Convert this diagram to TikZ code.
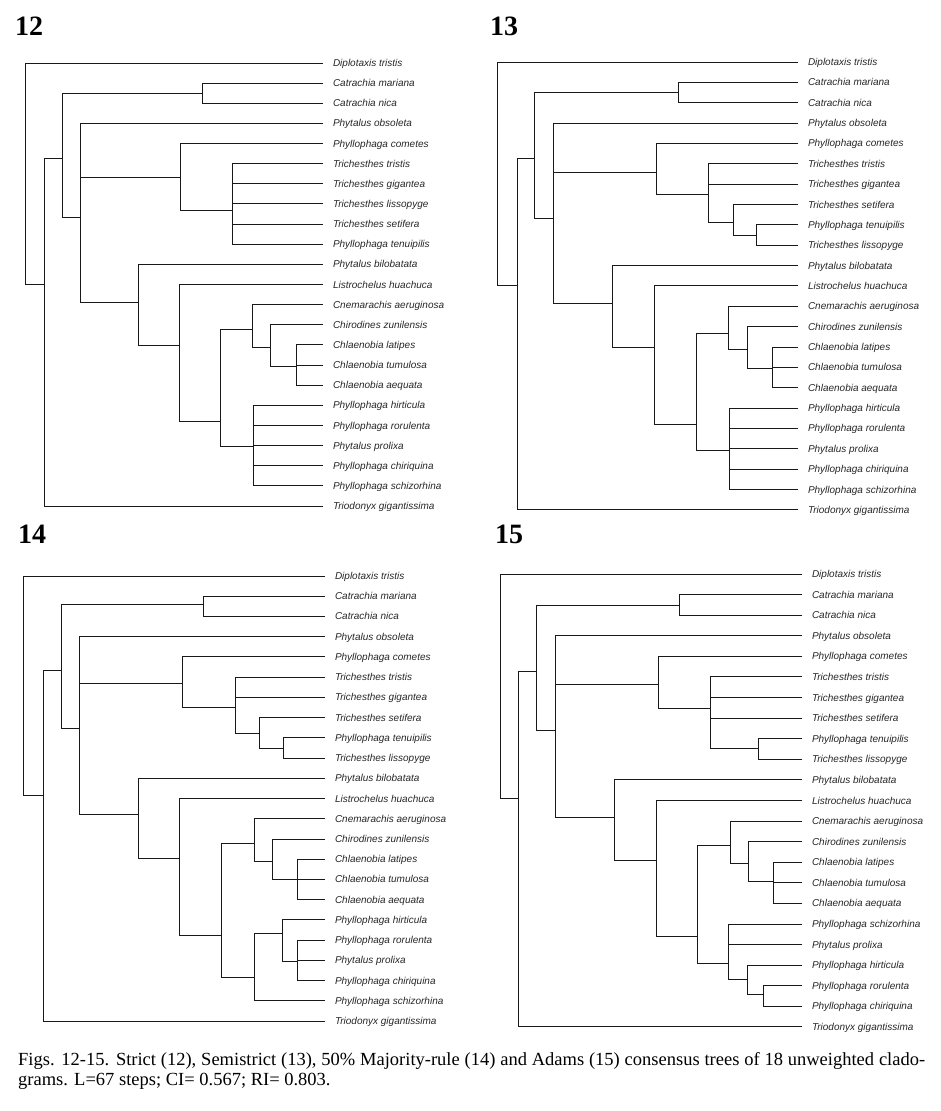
\documentclass[tikz,border=0pt]{standalone}
\usepackage{fontspec}
\setmainfont{Liberation Serif}
\newfontfamily\taxfont{Liberation Sans}
\usetikzlibrary{positioning}

\tikzset{
  taxon/.style={anchor=west, inner xsep=0pt, outer xsep=10pt, inner ysep=0pt,
    text height=8pt, text depth=1pt, black!85,
    font=\taxfont\itshape\fontsize{10}{12}\selectfont},
  branch/.style={line width=1pt, black!90},
  figno/.style={anchor=base west, inner sep=0pt, font=\bfseries\fontsize{28}{30}\selectfont},
  legend/.style={anchor=base west, inner sep=0pt, font=\fontsize{18.5}{19}\selectfont}
}

\begin{document}
\begin{tikzpicture}[x=1pt, y=-1pt]
\useasboundingbox (0,0) rectangle (941,1111);

% figure numbers
\node [figno] (no12) at (15,35) {12};
\node [figno] (no13) at (490,35) {13};
\node [figno] (no14) at (18,543) {14};
\node [figno] (no15) at (495,543) {15};

% ---- 12: strict
\foreach \m/\l [count=\i] in {dip/Diplotaxis tristis, cmar/Catrachia mariana, cnic/Catrachia nica,
    pobs/Phytalus obsoleta, pcom/Phyllophaga cometes, ttri/Trichesthes tristis,
    tgig/Trichesthes gigantea, tlis/Trichesthes lissopyge, tset/Trichesthes setifera,
    pten/Phyllophaga tenuipilis, pbil/Phytalus bilobatata, lhua/Listrochelus huachuca,
    caer/Cnemarachis aeruginosa, czun/Chirodines zunilensis, clat/Chlaenobia latipes,
    ctum/Chlaenobia tumulosa, caeq/Chlaenobia aequata, phir/Phyllophaga hirticula,
    pror/Phyllophaga rorulenta, ppro/Phytalus prolixa, pchi/Phyllophaga chiriquina,
    psch/Phyllophaga schizorhina, trio/Triodonyx gigantissima}
  \node [taxon] (a-\m) at (323,{63+(\i-1)*20.14}) {\l};

\foreach \n/\x/\y in {r/25/170, n1/44/284, n2/62/158, n3/202/93, n4/80/217, n5/180/177,
    n6/232/210, n7/138/302, n8/179/345, n9/220/421, n10/252/329, n11/270/347,
    n12/296/366, n13/253/446}
  \coordinate (a-\n) at (\x,\y);

\foreach \p/\c in {r/dip, r/n1, n1/n2, n1/trio, n2/n3, n2/n4, n3/cmar, n3/cnic,
    n4/pobs, n4/n5, n4/n7, n5/pcom, n5/n6, n6/ttri, n6/tgig, n6/tlis, n6/tset, n6/pten,
    n7/pbil, n7/n8, n8/lhua, n8/n9, n9/n10, n9/n13, n10/caer, n10/n11, n11/czun, n11/n12,
    n12/clat, n12/ctum, n12/caeq, n13/phir, n13/pror, n13/ppro, n13/pchi, n13/psch}
  \draw [branch] (a-\p) |- (a-\c);

% ---- 13: semistrict
\foreach \m/\l [count=\i] in {dip/Diplotaxis tristis, cmar/Catrachia mariana, cnic/Catrachia nica,
    pobs/Phytalus obsoleta, pcom/Phyllophaga cometes, ttri/Trichesthes tristis,
    tgig/Trichesthes gigantea, tset/Trichesthes setifera, pten/Phyllophaga tenuipilis,
    tlis/Trichesthes lissopyge, pbil/Phytalus bilobatata, lhua/Listrochelus huachuca,
    caer/Cnemarachis aeruginosa, czun/Chirodines zunilensis, clat/Chlaenobia latipes,
    ctum/Chlaenobia tumulosa, caeq/Chlaenobia aequata, phir/Phyllophaga hirticula,
    pror/Phyllophaga rorulenta, ppro/Phytalus prolixa, pchi/Phyllophaga chiriquina,
    psch/Phyllophaga schizorhina, trio/Triodonyx gigantissima}
  \node [taxon] (b-\m) at (798,{62+(\i-1)*20.36}) {\l};

\foreach \n/\x/\y in {r/497/170, n1/517/285, n2/534/158, n3/678/92, n4/553/218, n5/656/172,
    n6/708/194, n7/733/222, n8/756/235, n9/612/303, n10/654/347, n11/696/424,
    n12/728/333, n13/747/349, n14/772/368, n15/729/450}
  \coordinate (b-\n) at (\x,\y);

\foreach \p/\c in {r/dip, r/n1, n1/n2, n1/trio, n2/n3, n2/n4, n3/cmar, n3/cnic,
    n4/pobs, n4/n5, n4/n9, n5/pcom, n5/n6, n6/ttri, n6/tgig, n6/n7, n7/tset, n7/n8,
    n8/pten, n8/tlis, n9/pbil, n9/n10, n10/lhua, n10/n11, n11/n12, n11/n15, n12/caer,
    n12/n13, n13/czun, n13/n14, n14/clat, n14/ctum, n14/caeq,
    n15/phir, n15/pror, n15/ppro, n15/pchi, n15/psch}
  \draw [branch] (b-\p) |- (b-\c);

% ---- 14: 50% majority rule
\foreach \m/\l [count=\i] in {dip/Diplotaxis tristis, cmar/Catrachia mariana, cnic/Catrachia nica,
    pobs/Phytalus obsoleta, pcom/Phyllophaga cometes, ttri/Trichesthes tristis,
    tgig/Trichesthes gigantea, tset/Trichesthes setifera, pten/Phyllophaga tenuipilis,
    tlis/Trichesthes lissopyge, pbil/Phytalus bilobatata, lhua/Listrochelus huachuca,
    caer/Cnemarachis aeruginosa, czun/Chirodines zunilensis, clat/Chlaenobia latipes,
    ctum/Chlaenobia tumulosa, caeq/Chlaenobia aequata, phir/Phyllophaga hirticula,
    pror/Phyllophaga rorulenta, ppro/Phytalus prolixa, pchi/Phyllophaga chiriquina,
    psch/Phyllophaga schizorhina, trio/Triodonyx gigantissima}
  \node [taxon] (c-\m) at (325,{576+(\i-1)*20.23}) {\l};

\foreach \n/\x/\y in {r/23/680, n1/43/795, n2/61/670, n3/203/604, n4/79/728, n5/182/683,
    n6/235/707, n7/259/733, n8/283/748, n9/138/814, n10/179/858, n11/221/935,
    n12/254/843, n13/272/861, n14/297/879, n15/254/977, n16/282/933, n17/297/961}
  \coordinate (c-\n) at (\x,\y);

\foreach \p/\c in {r/dip, r/n1, n1/n2, n1/trio, n2/n3, n2/n4, n3/cmar, n3/cnic,
    n4/pobs, n4/n5, n4/n9, n5/pcom, n5/n6, n6/ttri, n6/tgig, n6/n7, n7/tset, n7/n8,
    n8/pten, n8/tlis, n9/pbil, n9/n10, n10/lhua, n10/n11, n11/n12, n11/n15, n12/caer,
    n12/n13, n13/czun, n13/n14, n14/clat, n14/ctum, n14/caeq,
    n15/n16, n15/psch, n16/phir, n16/n17, n17/pror, n17/ppro, n17/pchi}
  \draw [branch] (c-\p) |- (c-\c);

% ---- 15: Adams
\foreach \m/\l [count=\i] in {dip/Diplotaxis tristis, cmar/Catrachia mariana, cnic/Catrachia nica,
    pobs/Phytalus obsoleta, pcom/Phyllophaga cometes, ttri/Trichesthes tristis,
    tgig/Trichesthes gigantea, tset/Trichesthes setifera, pten/Phyllophaga tenuipilis,
    tlis/Trichesthes lissopyge, pbil/Phytalus bilobatata, lhua/Listrochelus huachuca,
    caer/Cnemarachis aeruginosa, czun/Chirodines zunilensis, clat/Chlaenobia latipes,
    ctum/Chlaenobia tumulosa, caeq/Chlaenobia aequata, psch/Phyllophaga schizorhina,
    ppro/Phytalus prolixa, phir/Phyllophaga hirticula, pror/Phyllophaga rorulenta,
    pchi/Phyllophaga chiriquina, trio/Triodonyx gigantissima}
  \node [taxon] (d-\m) at (802,{574+(\i-1)*20.59}) {\l};

\foreach \n/\x/\y in {r/500/680, n1/518/798, n2/536/671, n3/679/605, n4/555/730, n5/658/684,
    n6/710/708, n7/758/748, n8/614/817, n9/656/860, n10/697/936, n11/730/845,
    n12/748/863, n13/773/881, n14/728/963, n15/747/979, n16/763/994}
  \coordinate (d-\n) at (\x,\y);

\foreach \p/\c in {r/dip, r/n1, n1/n2, n1/trio, n2/n3, n2/n4, n3/cmar, n3/cnic,
    n4/pobs, n4/n5, n4/n8, n5/pcom, n5/n6, n6/ttri, n6/tgig, n6/tset, n6/n7,
    n7/pten, n7/tlis, n8/pbil, n8/n9, n9/lhua, n9/n10, n10/n11, n10/n14, n11/caer,
    n11/n12, n12/czun, n12/n13, n13/clat, n13/ctum, n13/caeq,
    n14/psch, n14/ppro, n14/n15, n15/phir, n15/n16, n16/pror, n16/pchi}
  \draw [branch] (d-\p) |- (d-\c);

% caption
\node [legend] (cap1) at (18,1065) {\makebox[907pt][s]{Figs. 12-15. Strict (12), Semistrict (13), 50\% Majority-rule (14) and Adams (15) consensus trees of 18 unweighted clado-}};
\node [legend] (cap2) at (18,1085) {grams. L=67 steps; CI= 0.567; RI= 0.803.};

\end{tikzpicture}
\end{document}
